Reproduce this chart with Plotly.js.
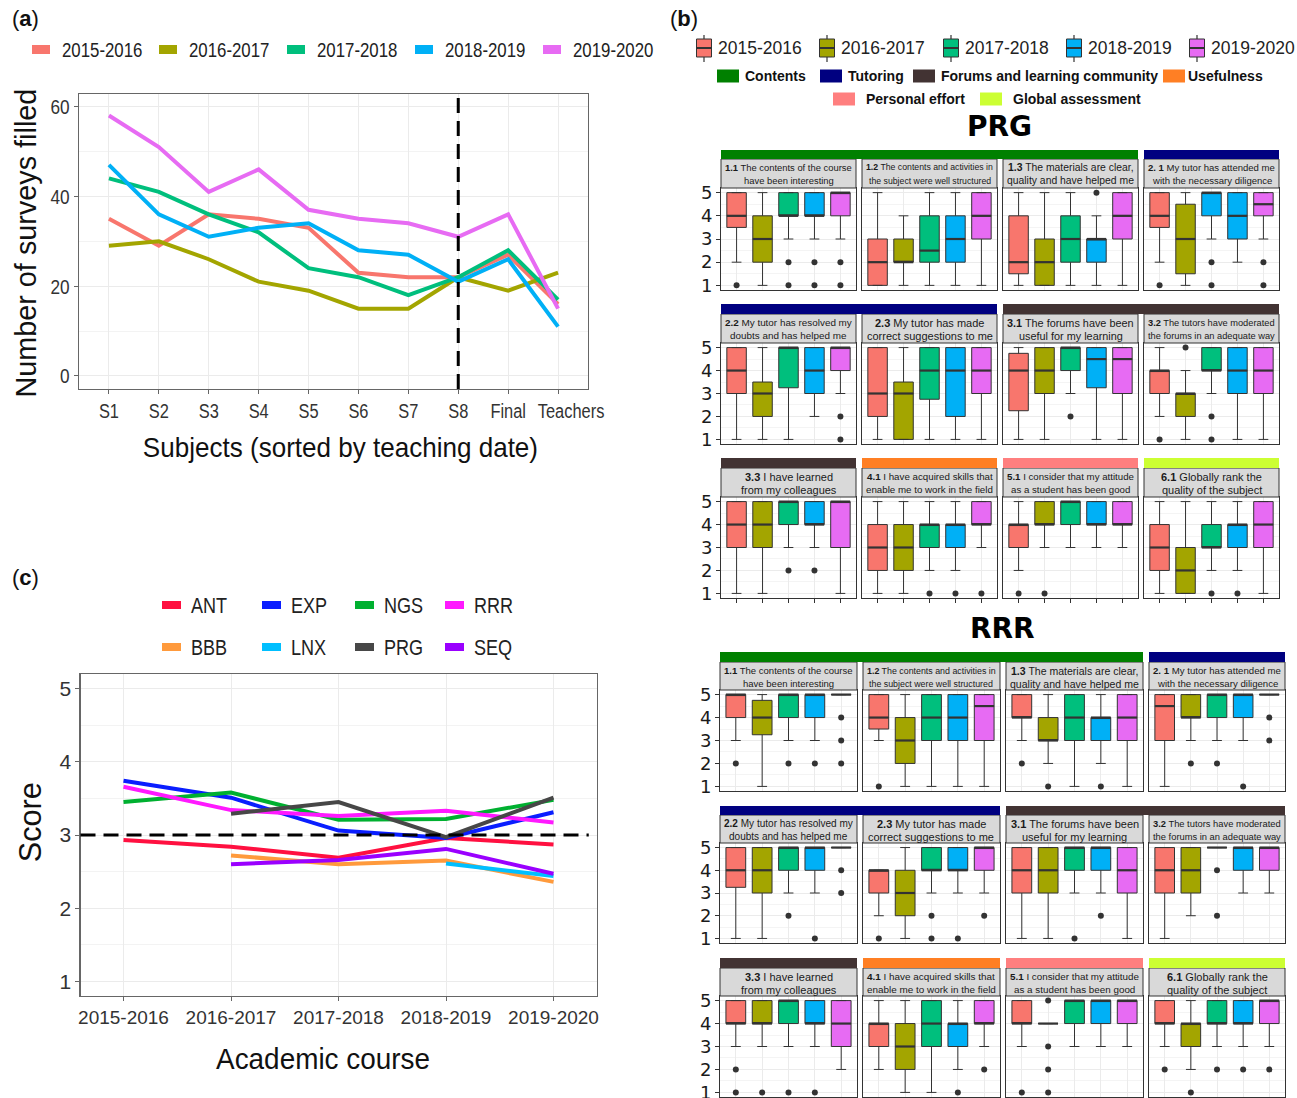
<!DOCTYPE html>
<html><head><meta charset="utf-8">
<script src="https://cdn.plot.ly/plotly-3.0.1.min.js"></script>
<style>body{margin:0;background:#fff}#chart{width:1297px;height:1098px}</style>
</head><body><div id="chart"></div>
<script>
// ---------------- DATA ----------------
// Panel (a)
const subjects=['S1','S2','S3','S4','S5','S6','S7','S8','Final','Teachers'];
const years=['2015-2016','2016-2017','2017-2018','2018-2019','2019-2020'];
const yearColors=['#F8766D','#A3A500','#00BF7D','#00B0F6','#E76BF3'];
const surveys2015=[35,29,36,35,33,23,22,22,27,16];
const surveys2016=[29,30,26,21,19,15,15,22,19,23];
const surveys2017=[44,41,36,32,24,22,18,22,28,17];
const surveys2018=[47,36,31,33,34,28,27,21,26,11];
const surveys2019=[58,51,41,46,37,35,34,31,36,15];

// Panel (c)
const courses=['2015-2016','2016-2017','2017-2018','2018-2019','2019-2020'];
const subjNames=['ANT','EXP','NGS','RRR','BBB','LNX','PRG','SEQ'];
const subjColors=['#FF1040','#0A1EFF','#00B030','#FF19FF','#FF9A3C','#00BFFF','#474747','#9A00FF'];
const scoreANT=[2.93,2.84,2.69,2.96,2.87];
const scoreEXP=[3.74,3.51,3.06,2.96,3.31];
const scoreNGS=[3.45,3.58,3.21,3.22,3.48];
const scoreRRR=[3.66,3.34,3.26,3.33,3.17];
const scoreBBB=[null,2.72,2.60,2.65,2.36];
const scoreLNX=[null,null,null,2.61,2.44];
const scorePRG=[null,3.29,3.45,2.97,3.51];
const scoreSEQ=[null,2.60,2.66,2.81,2.47];

// Panel (b): questions
const qNum=['1.1','1.2','1.3','2. 1','2.2','2.3','3.1','3.2','3.3','4.1','5.1','6.1'];
const qLine1=['The contents of the course','The contents and activities in','The materials are clear,','My tutor has attended me',
  'My tutor has resolved my','My tutor has made','The forums have been','The tutors have moderated',
  'I have learned','I have acquired skills that','I consider that my attitude','Globally rank the'];
const qLine2=['have been interesting','the subject were well structured','quality and have helped me','with the necessary diligence',
  'doubts and has helped me','correct suggestions to me','useful for my learning','the forums in an adequate way',
  'from my colleagues','enable me to work in the field','as a student has been good','quality of the subject'];
const catNames=['Contents','Tutoring','Forums and learning community','Usefulness','Personal effort','Global assessment'];
const catColors=['#008000','#000080','#423333','#FF7F24','#FF7F7F','#CCFF33'];
const qCat=[0,0,0,1,1,1,2,2,2,3,4,5];
const groupNames=['PRG','RRR'];

// box stats per year: [lowerfence, q1, median, q3, upperfence]; outliers separately
const prg11=[[2,3.5,4,5,5],[1,2,3,4,5],[3,4,4,5,5],[3,4,4,5,5],[3,4,5,5,5]];
const prg11Out=[[1],[],[2,1],[2,1],[2,1]];
const prg12=[[1,1,2,3,5],[1,2,2,3,4],[1,2,2.5,4,5],[1,2,3,4,5],[1,3,4,5,5]];
const prg12Out=[[],[],[],[],[]];
const prg13=[[1,1.5,2,4,5],[1,1,2,3,5],[1,2,3,4,5],[1,2,3,3,4],[1,3,4,5,5]];
const prg13Out=[[],[],[],[5],[]];
const prg21=[[2,3.5,4,5,5],[1,1.5,3,4.5,5],[3,4,5,5,5],[2,3,4,5,5],[3,4,4.5,5,5]];
const prg21Out=[[1],[],[2,1],[],[2,1]];
const prg22=[[1,3,4,5,5],[1,2,3,3.5,5],[1,3.25,5,5,5],[2,3,4,5,5],[3,4,5,5,5]];
const prg22Out=[[],[],[],[],[2,1]];
const prg23=[[1,2,3,5,5],[1,1,3,3.5,5],[1,2.75,4,5,5],[1,2,4,5,5],[1,3,4,5,5]];
const prg23Out=[[],[],[],[],[]];
const prg31=[[1,2.25,4,4.75,5],[1,3,4,5,5],[3,4,5,5,5],[1,3.25,4.5,5,5],[1,3,4.5,5,5]];
const prg31Out=[[],[],[2],[],[]];
const prg32=[[2,3,4,4,5],[1,2,3,3,4],[3,4,4,5,5],[1,3,4,5,5],[1,3,4,5,5]];
const prg32Out=[[1],[5],[2,1],[],[]];
const prg33=[[1,3,4,5,5],[1,3,4,5,5],[3,4,5,5,5],[3,4,4,5,5],[1,3,5,5,5]];
const prg33Out=[[],[],[2],[2],[]];
const prg41=[[1,2,3,4,5],[1,2,3,4,5],[2,3,4,4,5],[2,3,4,4,5],[3,4,4,5,5]];
const prg41Out=[[],[],[1],[1],[1]];
const prg51=[[2,3,4,4,5],[3,4,4,5,5],[3,4,5,5,5],[3,4,4,5,5],[3,4,4,5,5]];
const prg51Out=[[1],[1],[],[],[]];
const prg61=[[1,2,3,4,5],[1,1,2,3,5],[2,3,3,4,5],[2,3,4,4,5],[1,3,4,5,5]];
const prg61Out=[[],[],[1],[1],[]];

const rrr11=[[3,4,5,5,5],[1,3.25,4,4.75,5],[3,4,5,5,5],[3,4,5,5,5],[5,5,5,5,5]];
const rrr11Out=[[2],[],[2],[2],[4,3,2]];
const rrr12=[[3,3.5,4,5,5],[1,2,3,4,5],[1,3,4,5,5],[1,3,4,5,5],[1,3,4.5,5,5]];
const rrr12Out=[[1],[],[],[],[]];
const rrr13=[[3,4,4,5,5],[2,3,3,4,5],[1,3,4,5,5],[2,3,4,4,5],[1,3,4,5,5]];
const rrr13Out=[[2],[1],[],[1],[]];
const rrr21=[[1,3,4.5,5,5],[3,4,4,5,5],[3,4,5,5,5],[3,4,5,5,5],[5,5,5,5,5]];
const rrr21Out=[[],[2],[2],[1],[4,3]];
const rrr22=[[1,3.25,4,5,5],[1,3,4,5,5],[3,4,5,5,5],[3,4,5,5,5],[5,5,5,5,5]];
const rrr22Out=[[],[],[2],[1],[4,3]];
const rrr23=[[2,3,4,4,4],[1,2,3,4,5],[3,4,4,5,5],[3,4,4,5,5],[3,4,5,5,5]];
const rrr23Out=[[1],[],[2,1],[1],[2]];
const rrr31=[[1,3,4,5,5],[1,3,4,5,5],[3,4,5,5,5],[3,4,5,5,5],[1,3,4,5,5]];
const rrr31Out=[[],[],[1],[2],[]];
const rrr32=[[1,3,4,5,5],[2,3,4,5,5],[5,5,5,5,5],[3,4,5,5,5],[3,4,5,5,5]];
const rrr32Out=[[],[],[4,2],[],[]];
const rrr33=[[3,4,4,5,5],[3,4,4,5,5],[3,4,5,5,5],[3,4,4,5,5],[2,3,4,5,5]];
const rrr33Out=[[2,1],[1],[1],[1],[]];
const rrr41=[[2,3,4,4,5],[1,2,3,4,5],[1,3,4,5,5],[2,3,4,4,5],[3,4,4,5,5]];
const rrr41Out=[[],[],[],[1],[2]];
const rrr51=[[3,4,4,5,5],[4,4,4,4,4],[3,4,5,5,5],[3,4,5,5,5],[3,4,5,5,5]];
const rrr51Out=[[1],[5,3,2,1],[],[],[]];
const rrr61=[[3,4,4,5,5],[2,3,4,4,5],[3,4,4,5,5],[3,4,4,5,5],[3,4,5,5,5]];
const rrr61Out=[[2],[1],[2],[2],[2]];

// fill colour index of each box (PRG 2.1 third box is drawn in the 2018-2019 colour)
const defaultColorIdx=[0,1,2,3,4];
const prg21ColorIdx=[0,1,3,3,4];

// ---------------- BUILD ----------------
const W=1297,H=1098;
const px=v=>v/W, py=v=>1-v/H;
const SANS='Liberation Sans, Arial, sans-serif';
const DJV='DejaVu Sans, sans-serif';
const NARROWF=0.82;
const traces=[],shapes=[],annotations=[],condenseSpecs=[];
const layout={width:W,height:H,margin:{l:0,r:0,t:0,b:0},paper_bgcolor:'#fff',plot_bgcolor:'#fff',showlegend:false,shapes,annotations};

function rect(x0,y0,x1,y1,fill,line,lw){
  shapes.push({type:'rect',xref:'paper',yref:'paper',x0:px(x0),x1:px(x1),y0:py(y1),y1:py(y0),
    fillcolor:fill,line:{color:line||fill,width:lw||0},layer:'above'});
}
function seg(x0,y0,x1,y1,color,w){
  shapes.push({type:'line',xref:'paper',yref:'paper',x0:px(x0),y0:py(y0),x1:px(x1),y1:py(y1),line:{color,width:w},layer:'above'});
}
function txt(x,y,t,size,family,anchor,color,extra,condense){
  annotations.push(Object.assign({xref:'paper',yref:'paper',x:px(x),y:py(y),text:t,showarrow:false,
    xanchor:anchor||'left',yanchor:'middle',align:anchor||'left',font:{size,family,color:color||'#1A1A1A'}},extra||{}));
  if(condense) condenseSpecs.push(Object.assign({idx:annotations.length-1},condense));
}
const cv=document.createElement('canvas').getContext('2d');
function measure(str,size,bold){cv.font=(bold?'bold ':'')+size+'px "Liberation Sans", Arial, sans-serif';return cv.measureText(str).width;}

const frameAxis={showline:true,mirror:true,linecolor:'#666',linewidth:1.2,showgrid:true,gridcolor:'#EBEBEB',gridwidth:1,
  ticks:'outside',ticklen:4,tickcolor:'#666',zeroline:false,fixedrange:true,tickangle:0};

// ----- Panel (a)
[surveys2015,surveys2016,surveys2017,surveys2018,surveys2019].forEach((s,i)=>{
  traces.push({type:'scatter',mode:'lines',x:subjects,y:s,xaxis:'x',yaxis:'y',line:{color:yearColors[i],width:4},hoverinfo:'skip'});
});
layout.xaxis=Object.assign({},frameAxis,{domain:[px(79),px(588)],type:'category',categoryarray:subjects,range:[-0.6,9.6],anchor:'y',
  tickfont:{family:SANS,size:20,color:'#333'}});
layout.yaxis=Object.assign({},frameAxis,{domain:[py(389),py(94)],range:[-2.9,62.8],anchor:'x',tickmode:'array',tickvals:[0,20,40,60],
  minor:{tickvals:[10,30,50],showgrid:true,gridcolor:'#F3F3F3',ticks:''},tickfont:{family:SANS,size:21,color:'#333'}});
shapes.push({type:'line',xref:'x',yref:'y domain',x0:subjects.indexOf('S8'),x1:subjects.indexOf('S8'),y0:0,y1:1,
  line:{color:'#000',width:3,dash:'15px,8px'}});
txt(340,447,'Subjects (sorted by teaching date)',28,SANS,'center','#111',null,{f:0.93});
txt(25,243,'Number of surveys filled',30,SANS,'center','#111',{textangle:-90},{f:0.96});
const aKeys=[32,159,287,415,543];
years.forEach((y,i)=>{rect(aKeys[i],45,aKeys[i]+18,54,yearColors[i]);txt(aKeys[i]+28,49,y,20.5,SANS,'left','#222',null,{f:NARROWF});});
txt(10,18,'(<b>a</b>)',22,SANS,'left','#111');

// ----- Panel (c)
[scoreANT,scoreEXP,scoreNGS,scoreRRR,scoreBBB,scoreLNX,scorePRG,scoreSEQ].forEach((s,i)=>{
  traces.push({type:'scatter',mode:'lines',x:courses,y:s,xaxis:'x2',yaxis:'y2',connectgaps:false,line:{color:subjColors[i],width:4},hoverinfo:'skip'});
});
layout.xaxis2=Object.assign({},frameAxis,{domain:[px(80.5),px(596.5)],type:'category',categoryarray:courses,range:[-0.4,4.4],anchor:'y2',
  tickfont:{family:SANS,size:19,color:'#333'}});
layout.yaxis2=Object.assign({},frameAxis,{domain:[py(996),py(674)],range:[0.8,5.2],anchor:'x2',tickmode:'array',tickvals:[1,2,3,4,5],
  minor:{tickvals:[1.5,2.5,3.5,4.5],showgrid:true,gridcolor:'#F3F3F3',ticks:''},tickfont:{family:SANS,size:21,color:'#333'}});
shapes.push({type:'line',xref:'x2 domain',yref:'y2',x0:0,x1:0.985,y0:3,y1:3,line:{color:'#000',width:3,dash:'15px,8px'}});
txt(323,1058,'Academic course',30,SANS,'center','#111',null,{f:0.93});
txt(30,822,'Score',32,SANS,'center','#111',{textangle:-90},{f:0.96});
const cKeyX=[162,262,355,445], cRowY=[605,647];
subjNames.forEach((n,i)=>{
  const kx=cKeyX[i%4], ky=cRowY[Math.floor(i/4)];
  rect(kx,ky-4,kx+19,ky+4,subjColors[i]);
  txt(kx+27,ky,n,22,SANS,'left','#222',null,{f:NARROWF});
});
txt(10,577,'(<b>c</b>)',22,SANS,'left','#111');

// ----- Panel (b)
txt(668,18,'(<b>b</b>)',22,SANS,'left','#111');
const bGlyphX=[704,827,951,1074,1197];
years.forEach((y,i)=>{
  const cx=bGlyphX[i];
  seg(cx,35,cx,62,'#333',1.2);
  rect(cx-7.5,39,cx+7.5,57,yearColors[i],'#333',1);
  seg(cx-7.5,48,cx+7.5,48,'#333',2);
  txt(cx+12,48,y,17.5,SANS,'left','#222');
});
const catKeyPos=[[717,76],[820,76],[913,76],[1163,76],[833,99],[980,99]];
catNames.forEach((n,i)=>{
  const [kx,ky]=catKeyPos[i];
  rect(kx,ky-6.5,kx+22,ky+6.5,catColors[i]);
  txt(kx+(i===3?23:(i>=4?31:26)),ky,'<b>'+n+'</b>',14,SANS,'left','#111');
});

const groups=[
  {boxes:[prg11,prg12,prg13,prg21,prg22,prg23,prg31,prg32,prg33,prg41,prg51,prg61],
   outs:[prg11Out,prg12Out,prg13Out,prg21Out,prg22Out,prg23Out,prg31Out,prg32Out,prg33Out,prg41Out,prg51Out,prg61Out],
   colorIdx:{3:prg21ColorIdx},
   cols:[[721,856],[862,997],[1003,1138],[1144,1279]],
   rows:[{bar:[150,159],strip:[159,188],panel:[188,290]},{bar:[304,314],strip:[314,343],panel:[343,444]},{bar:[458,468],strip:[468,497],panel:[497,598]}],
   titleY:127},
  {boxes:[rrr11,rrr12,rrr13,rrr21,rrr22,rrr23,rrr31,rrr32,rrr33,rrr41,rrr51,rrr61],
   outs:[rrr11Out,rrr12Out,rrr13Out,rrr21Out,rrr22Out,rrr23Out,rrr31Out,rrr32Out,rrr33Out,rrr41Out,rrr51Out,rrr61Out],
   colorIdx:{},
   cols:[[720,857],[863,1000],[1006,1143],[1149,1285]],
   rows:[{bar:[652,662],strip:[662,690],panel:[690,791]},{bar:[806,815],strip:[815,843],panel:[843,943]},{bar:[958,968],strip:[968,996],panel:[996,1097]}],
   titleY:628}
];

groups.forEach((g,gi)=>{
  txt((g.cols[0][0]+g.cols[3][1])/2,g.titleY,'<b>'+groupNames[gi]+'</b>',28,DJV,'center','#000');
  g.boxes.forEach((panel,q)=>{
    const n=3+gi*12+q, r=Math.floor(q/4), c=q%4;
    const col=g.cols[c], row=g.rows[r];
    layout['xaxis'+n]={domain:[px(col[0]),px(col[1])],range:[0.4,5.6],anchor:'y'+n,tickmode:'array',tickvals:[1,2,3,4,5],
      showticklabels:false,ticks:r===2?'outside':'',ticklen:4,tickcolor:'#333',showgrid:true,gridcolor:'#EBEBEB',
      showline:true,mirror:true,linecolor:'#333',linewidth:1,zeroline:false,fixedrange:true};
    layout['yaxis'+n]={domain:[py(row.panel[1]),py(row.panel[0])],range:[0.8,5.2],anchor:'x'+n,tickmode:'array',tickvals:[1,2,3,4,5],
      showticklabels:c===0,ticks:c===0?'outside':'',ticklen:4,tickcolor:'#333',tickfont:{family:DJV,size:18,color:'#1A1A1A'},
      ticklabeloverflow:'allow',
      showgrid:true,gridcolor:'#EBEBEB',minor:{tickvals:[1.5,2.5,3.5,4.5],showgrid:true,gridcolor:'#F4F4F4',ticks:''},
      showline:true,mirror:true,linecolor:'#333',linewidth:1,zeroline:false,fixedrange:true};
    const cidx=g.colorIdx[q]||defaultColorIdx;
    const mx=[],my=[],ox=[],oy=[];
    panel.forEach((b,i)=>{
      traces.push({type:'box',x:[i+1],lowerfence:[b[0]],q1:[b[1]],median:[b[2]],q3:[b[3]],upperfence:[b[4]],
        xaxis:'x'+n,yaxis:'y'+n,width:0.75,fillcolor:yearColors[cidx[i]],line:{color:'#333',width:1},
        boxpoints:false,hoverinfo:'skip'});
      mx.push(i+1-0.375,i+1+0.375,null); my.push(b[2],b[2],null);
      g.outs[q][i].forEach(v=>{ox.push(i+1);oy.push(v);});
    });
    traces.push({type:'scatter',mode:'lines',x:mx,y:my,xaxis:'x'+n,yaxis:'y'+n,line:{color:'#333',width:2.2},hoverinfo:'skip'});
    if(ox.length) traces.push({type:'scatter',mode:'markers',x:ox,y:oy,xaxis:'x'+n,yaxis:'y'+n,marker:{color:'#333',size:6},hoverinfo:'skip'});
    // strip: grey box with two labels, font sized so that the longer line fits
    rect(col[0],row.strip[0],col[1],row.strip[1],'#D9D9D9','#333',1);
    const mw=col[1]-col[0]-8;
    const w10=Math.max(measure(qNum[q]+' ',10,true)+measure(qLine1[q],10,false),measure(qLine2[q],10,false));
    const fs=Math.max(8,Math.min(11,mw/(w10/10)));
    const cx=(col[0]+col[1])/2;
    txt(cx,row.strip[0]+8.5,'<b>'+qNum[q]+'</b> '+qLine1[q],fs,SANS,'center','#1A1A1A');
    txt(cx,row.strip[0]+21.5,qLine2[q],fs,SANS,'center','#1A1A1A');
  });
  // category bars spanning consecutive panels in each row
  for(let r=0;r<3;r++){
    let start=0;
    for(let c=1;c<=4;c++){
      if(c===4||qCat[r*4+c]!==qCat[r*4+start]){
        rect(g.cols[start][0],g.rows[r].bar[0],g.cols[c-1][1],g.rows[r].bar[1],catColors[qCat[r*4+start]]);
        start=c;
      }
    }
  }
});

function fit(el,f,maxW){
  const w=el.getComputedTextLength();
  const target=Math.min(w*f,maxW||Infinity);
  if(target<w-0.3){el.setAttribute('textLength',target.toFixed(2));el.setAttribute('lengthAdjust','spacingAndGlyphs');}
}
const gd=document.getElementById('chart');
Plotly.newPlot(gd,traces,layout,{displayModeBar:false,staticPlot:true}).then(()=>{
  condenseSpecs.forEach(s=>{
    const g=gd.querySelector('.annotation[data-index="'+s.idx+'"]');
    if(!g) return;
    const t=g.querySelector('text.annotation-text');
    if(t) fit(t,s.f,s.maxW);
  });
  [['xy','x'],['xy','y'],['x2y2','x'],['x2y2','y']].forEach(([sp,ax])=>{
    gd.querySelectorAll('.subplot.'+sp+' .'+ax+'axislayer-above .'+ax+'tick text').forEach(t=>{
      fit(t,NARROWF);
      // the reference sets the last label of panel (a) slightly right of its tick
      if(sp==='xy'&&ax==='x'&&t.textContent==='Teachers') t.setAttribute('x',(parseFloat(t.getAttribute('x'))||0)+13);
    });
  });
});
</script>
</body></html>
